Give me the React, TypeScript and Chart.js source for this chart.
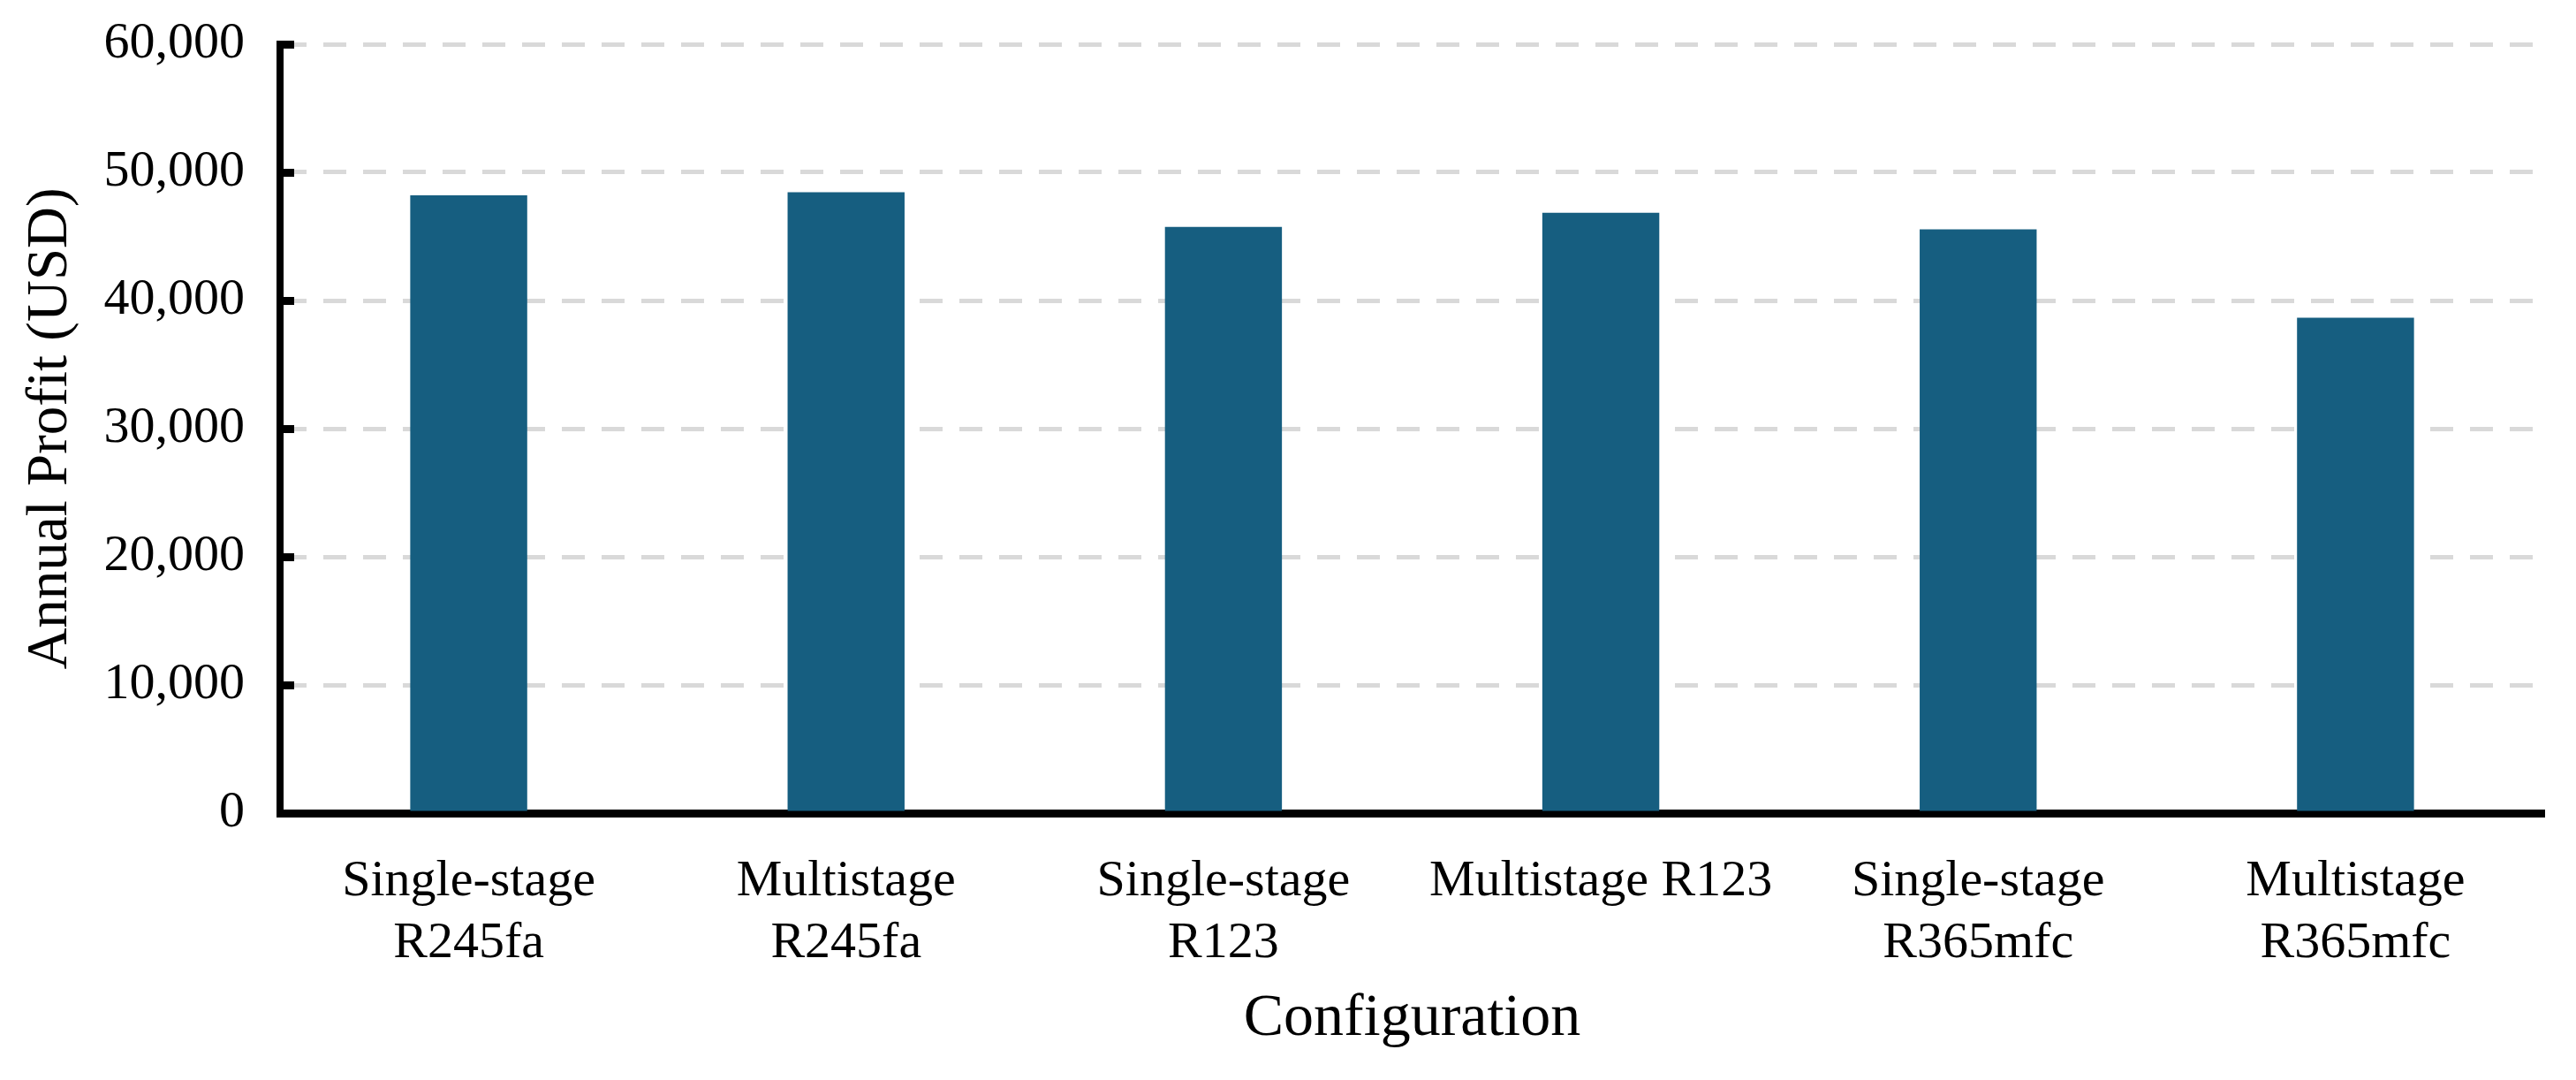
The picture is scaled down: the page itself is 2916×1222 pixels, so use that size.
import React, { useRef, useEffect } from 'react';
import { Chart, registerables } from 'chart.js';

Chart.register(...registerables);

const configurations = [
  ['Single-stage', 'R245fa'],
  ['Multistage', 'R245fa'],
  ['Single-stage', 'R123'],
  'Multistage R123',
  ['Single-stage', 'R365mfc'],
  ['Multistage', 'R365mfc'],
];

const annualProfit = [48200, 48450, 45750, 46850, 45550, 38650];

const yTicks = [0, 10000, 20000, 30000, 40000, 50000, 60000];

const serif = '"Liberation Serif", "Times New Roman", serif';

// short black tick marks drawn inside the plot, next to the y axis
const innerTicks = {
  id: 'innerTicks',
  afterDraw(chart) {
    const { ctx, chartArea, scales } = chart;
    ctx.save();
    ctx.fillStyle = '#000';
    yTicks.forEach((v) => {
      const y = scales.y.getPixelForValue(v);
      ctx.fillRect(chartArea.left - 4, y - 4, 20, 9);
    });
    ctx.restore();
  },
};

const ProfitChart = () => {
  const chartRef = useRef(null);

  useEffect(() => {
    document.body.style.margin = '0';
    const ctx = chartRef.current.getContext('2d');
    const chart = new Chart(ctx, {
      type: 'bar',
      data: {
        labels: configurations,
        datasets: [{
          data: annualProfit,
          backgroundColor: '#165E80',
          categoryPercentage: 1,
          barPercentage: 0.31,
        }],
      },
      options: {
        responsive: false,
        animation: false,
        layout: { padding: { top: 50, right: 36, left: 0, bottom: 0 } },
        plugins: {
          legend: { display: false },
          tooltip: { enabled: false },
        },
        scales: {
          x: {
            grid: { display: false, drawTicks: false },
            border: { display: true, color: '#000', width: 9 },
            ticks: {
              color: '#000',
              padding: 43,
              font: { family: serif, size: 58, lineHeight: 1.2 },
              maxRotation: 0,
              autoSkip: false,
            },
            title: {
              display: true,
              text: 'Configuration',
              color: '#000',
              font: { family: serif, size: 68 },
              padding: { top: 0, bottom: 28 },
            },
            afterFit: (s) => { s.height = 302; },
          },
          y: {
            min: 0,
            max: 60000,
            grid: {
              color: (c) => (c.tick && c.tick.value === 0 ? 'rgba(0,0,0,0)' : '#D9D9D9'),
              lineWidth: 5,
              drawTicks: false,
            },
            border: { display: true, color: '#000', width: 8, dash: [26, 19] },
            ticks: {
              stepSize: 10000,
              color: '#000',
              padding: 40,
              font: { family: serif, size: 58 },
              callback: (v) => Number(v).toLocaleString('en-US'),
            },
            title: {
              display: true,
              text: 'Annual Profit (USD)',
              color: '#000',
              font: { family: serif, size: 65 },
              padding: { top: 19, bottom: 0 },
            },
            afterFit: (s) => {
              s.width = 317;
              s.paddingTop = 0;
              s.paddingBottom = 0;
            },
          },
        },
      },
      plugins: [innerTicks],
    });

    return () => chart.destroy();
  }, []);

  return (
    <div style={{ position: 'absolute', left: 0, top: 0, width: 2916, height: 1222 }}>
      <canvas ref={chartRef} width="2916" height="1222"></canvas>
    </div>
  );
};

export default function App() {
  return <ProfitChart />;
}
